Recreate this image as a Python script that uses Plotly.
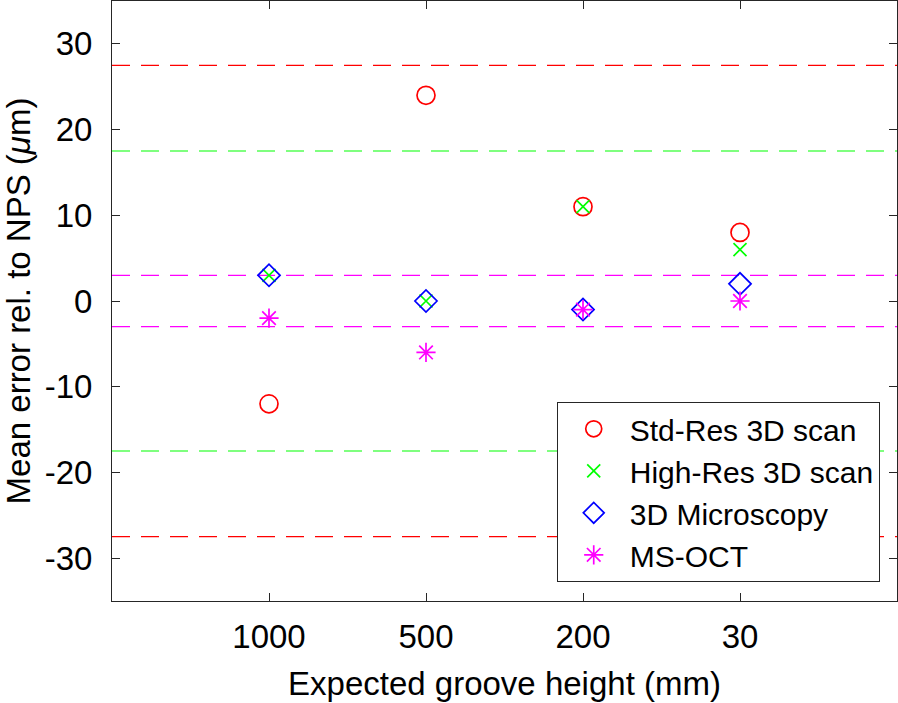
import plotly.graph_objects as go

categories = ["1000", "500", "200", "30"]
std_res = [-12, 24, 11, 8]
high_res = [3, 0, 11, 6]
microscopy = [3, 0, -1, 2]
ms_oct = [-2, -6, -1, 0]

limit_std = 27.5
limit_high = 17.5
limit_oct = 3

y_ticks = [-30, -20, -10, 0, 10, 20, 30]
y_ticktext = ["-30", "-20", "-10", "0", "10", "20", "30"]

xpos = [1, 2, 3, 4]
font = "Liberation Sans, Arial, Helvetica, sans-serif"

fig = go.Figure()
series = [
    ("Std-Res 3D scan", std_res, "circle-open", "#ff0000", 18),
    ("High-Res 3D scan", high_res, "x-thin-open", "#00ff00", 13),
    ("3D Microscopy", microscopy, "diamond-open", "#0000ff", 17),
    ("MS-OCT", ms_oct, "asterisk-open", "#ff00ff", 16),
]
for i, (name, vals, sym, col, sz) in enumerate(series):
    fig.add_trace(go.Scatter(
        x=xpos, y=vals, mode="markers", name=name,
        marker=dict(symbol=sym, size=sz, color=col,
                    line=dict(color=col, width=1.7)),
    ))

for val, col in [(limit_std, "#ff0000"), (limit_high, "#00ff00"), (limit_oct, "#ff00ff")]:
    for s in (1, -1):
        fig.add_shape(type="line", xref="paper", yref="y", x0=0, x1=1,
                      y0=s * val, y1=s * val,
                      line=dict(color=col, width=1.2, dash="18px,11px"), layer="below")

axis_common = dict(
    showgrid=False, zeroline=False, showline=True, linecolor="#262626", linewidth=1,
    mirror="ticks", ticks="inside", ticklen=8, tickcolor="#262626",
    tickfont=dict(family=font, size=33, color="#000000"),
    automargin=False,
)

fig.update_layout(
    width=898, height=703,
    margin=dict(l=112, r=1, t=1, b=102),
    paper_bgcolor="white", plot_bgcolor="white",
    font=dict(family=font, color="#000000"),
    showlegend=True,
    legend=dict(
        x=0.978, y=0.032, xanchor="right", yanchor="bottom",
        bgcolor="white", bordercolor="#262626", borderwidth=1,
        font=dict(family=font, size=30, color="#000000"),
        itemwidth=62,
    ),
    xaxis=dict(
        range=[0, 5], tickmode="array", tickvals=xpos, ticktext=categories,
        title=dict(text="Expected groove height (mm)", font=dict(family=font, size=33), standoff=18),
        ticklabelstandoff=6,
        **axis_common,
    ),
    yaxis=dict(
        range=[-35, 35], tickmode="array", tickvals=y_ticks, ticktext=y_ticktext,
        title=dict(text="Mean error rel. to NPS (<i>μ</i>m)", font=dict(family=font, size=33), standoff=8),
        ticklabelstandoff=12,
        **axis_common,
    ),
)

fig.write_html(
    "out.html",
    config={"responsive": False, "displayModeBar": False},
    post_script="document.body.style.margin='0';document.body.style.overflow='hidden';",
)
